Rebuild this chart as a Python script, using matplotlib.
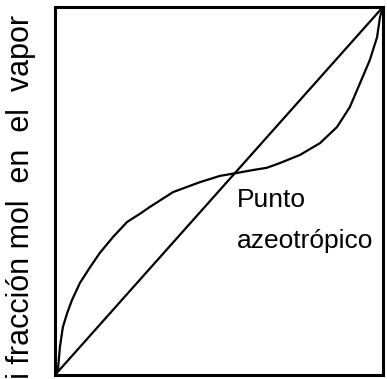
import matplotlib.pyplot as plt

# Fracción molar del líquido (x) y del vapor (y) en equilibrio
x_liq = [0.0, 0.009, 0.015, 0.024, 0.037, 0.052, 0.076, 0.107, 0.137,
         0.177, 0.220, 0.259, 0.290, 0.360, 0.442, 0.503, 0.555, 0.604,
         0.646, 0.686, 0.747, 0.808, 0.860, 0.899, 0.930, 0.960, 0.982,
         0.991, 1.0]
y_vap = [0.0, 0.014, 0.076, 0.130, 0.168, 0.204, 0.250, 0.293, 0.332,
         0.375, 0.416, 0.438, 0.457, 0.497, 0.524, 0.541, 0.549, 0.557,
         0.563, 0.576, 0.598, 0.630, 0.674, 0.728, 0.793, 0.856, 0.918,
         0.973, 1.0]

# Diagonal y = x
diag = [0.0, 1.0]

fig = plt.figure(figsize=(3.87, 3.79), dpi=100)
ax = fig.add_axes([0.1421, 0.0106, 0.8475, 0.971])

ax.plot(x_liq, y_vap, color="black", lw=1.6, solid_joinstyle="round")
ax.plot(diag, diag, color="black", lw=1.6)

ax.set_xlim(0, 1)
ax.set_ylim(0, 1)
ax.set_xticks([])
ax.set_yticks([])
for s in ax.spines.values():
    s.set_linewidth(2.2)

ax.text(0.555, 0.457, "Punto", fontsize=19, family="Liberation Sans",
        va="baseline", ha="left")
ax.text(0.555, 0.345, "azeotrópico", fontsize=19, family="Liberation Sans",
        va="baseline", ha="left")

# etiqueta del eje y, con espacios anchos entre palabras
fig.text(21 / 387, 1 - 15 / 379, "yi fracción mol  en  el  vapor", rotation=90,
         fontsize=22, family="Liberation Sans", ha="center", va="top")

plt.savefig("out.png", dpi=100)
